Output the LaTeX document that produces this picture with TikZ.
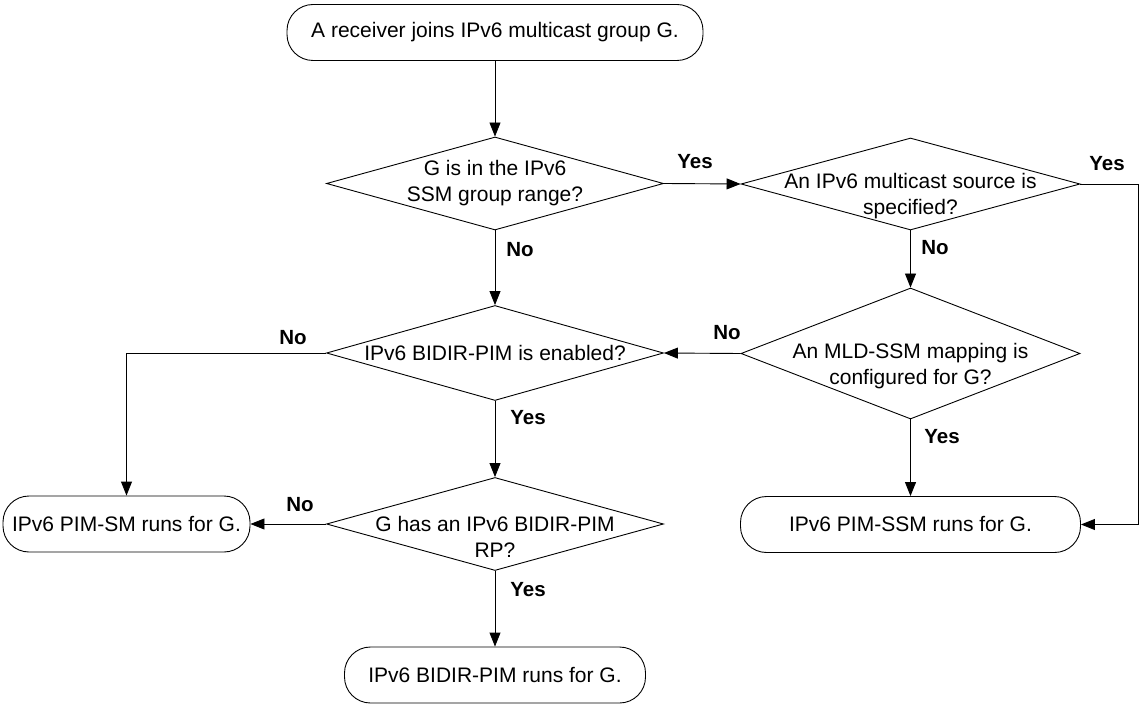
\documentclass[tikz,border=0pt]{standalone}
\usepackage{fontspec}
\setmainfont{Liberation Sans}
\usetikzlibrary{shapes.geometric,arrows.meta}
\begin{document}
\begin{tikzpicture}[x=1pt,y=-1pt,
  every node/.style={font=\fontsize{21}{26}\selectfont, text=black},
  term/.style={draw, line width=0.9pt, rectangle, rounded corners=26pt, minimum height=56pt, inner sep=0pt, align=center},
  dia/.style={draw, line width=0.9pt, diamond, inner xsep=-110pt, inner ysep=-20pt, align=center},
  dtext/.style={label={[align=center, yshift=-12.5pt]center:#1}},
  lab/.style={font=\fontsize{20.5}{24}\selectfont\bfseries},
  conn/.style={draw, line width=0.9pt, -{Triangle[length=14pt,width=11pt]}}
]
\useasboundingbox (0,0) rectangle (1142,708);
\node[term, minimum width=416pt] (start) at (495,32.5) {A receiver joins IPv6 multicast group G.};
\node[dia, minimum width=337pt, minimum height=93pt] (d1) at (495,183.5) {G is in the IPv6\\SSM group range?};
\node[dia, minimum width=339pt, minimum height=92pt, dtext={An IPv6 multicast source is\\specified?}] (d2) at (910.5,184) {};
\node[dia, minimum width=337pt, minimum height=95pt] (d3) at (495,353) {IPv6 BIDIR-PIM is enabled?};
\node[dia, minimum width=339pt, minimum height=131pt, dtext={An MLD-SSM mapping is\\configured for G?}] (d4) at (910.5,353.5) {};
\node[dia, minimum width=337pt, minimum height=93pt, dtext={G has an IPv6 BIDIR-PIM\\RP?}] (d5) at (495,524) {};
\node[term, minimum width=247pt] (sm) at (126.5,524) {IPv6 PIM-SM runs for G.};
\node[term, minimum width=340pt] (ssm) at (910.5,524.5) {IPv6 PIM-SSM runs for G.};
\node[term, minimum width=301pt] (bidir) at (495,675) {IPv6 BIDIR-PIM runs for G.};

\path[conn] (start) -- (d1.north);
\path[conn] (d1.east) -- (d2.west);
\path[conn] (d1.south) -- (d3.north);
\path[conn] (d2.south) -- (d4.north);
\path[conn] (d2.east) -- ++(58,0) |- (ssm.east);
\path[conn] (d4.west) -- (d3.east);
\path[conn] (d4.south) -- (ssm.north);
\path[conn] (d3.west) -| (sm.north);
\path[conn] (d3.south) -- (d5.north);
\path[conn] (d5.west) -- (sm.east);
\path[conn] (d5.south) -- (bidir.north);

\node[lab] (l1) at (695,162) {Yes};
\node[lab] (l2) at (1107,164) {Yes};
\node[lab] (l3) at (935,248) {No};
\node[lab] (l4) at (727,333) {No};
\node[lab] (l5) at (942,437) {Yes};
\node[lab] (l6) at (520,250) {No};
\node[lab] (l7) at (293,338) {No};
\node[lab] (l8) at (528,418) {Yes};
\node[lab] (l9) at (300,505) {No};
\node[lab] (l10) at (528,590) {Yes};
\end{tikzpicture}
\end{document}
